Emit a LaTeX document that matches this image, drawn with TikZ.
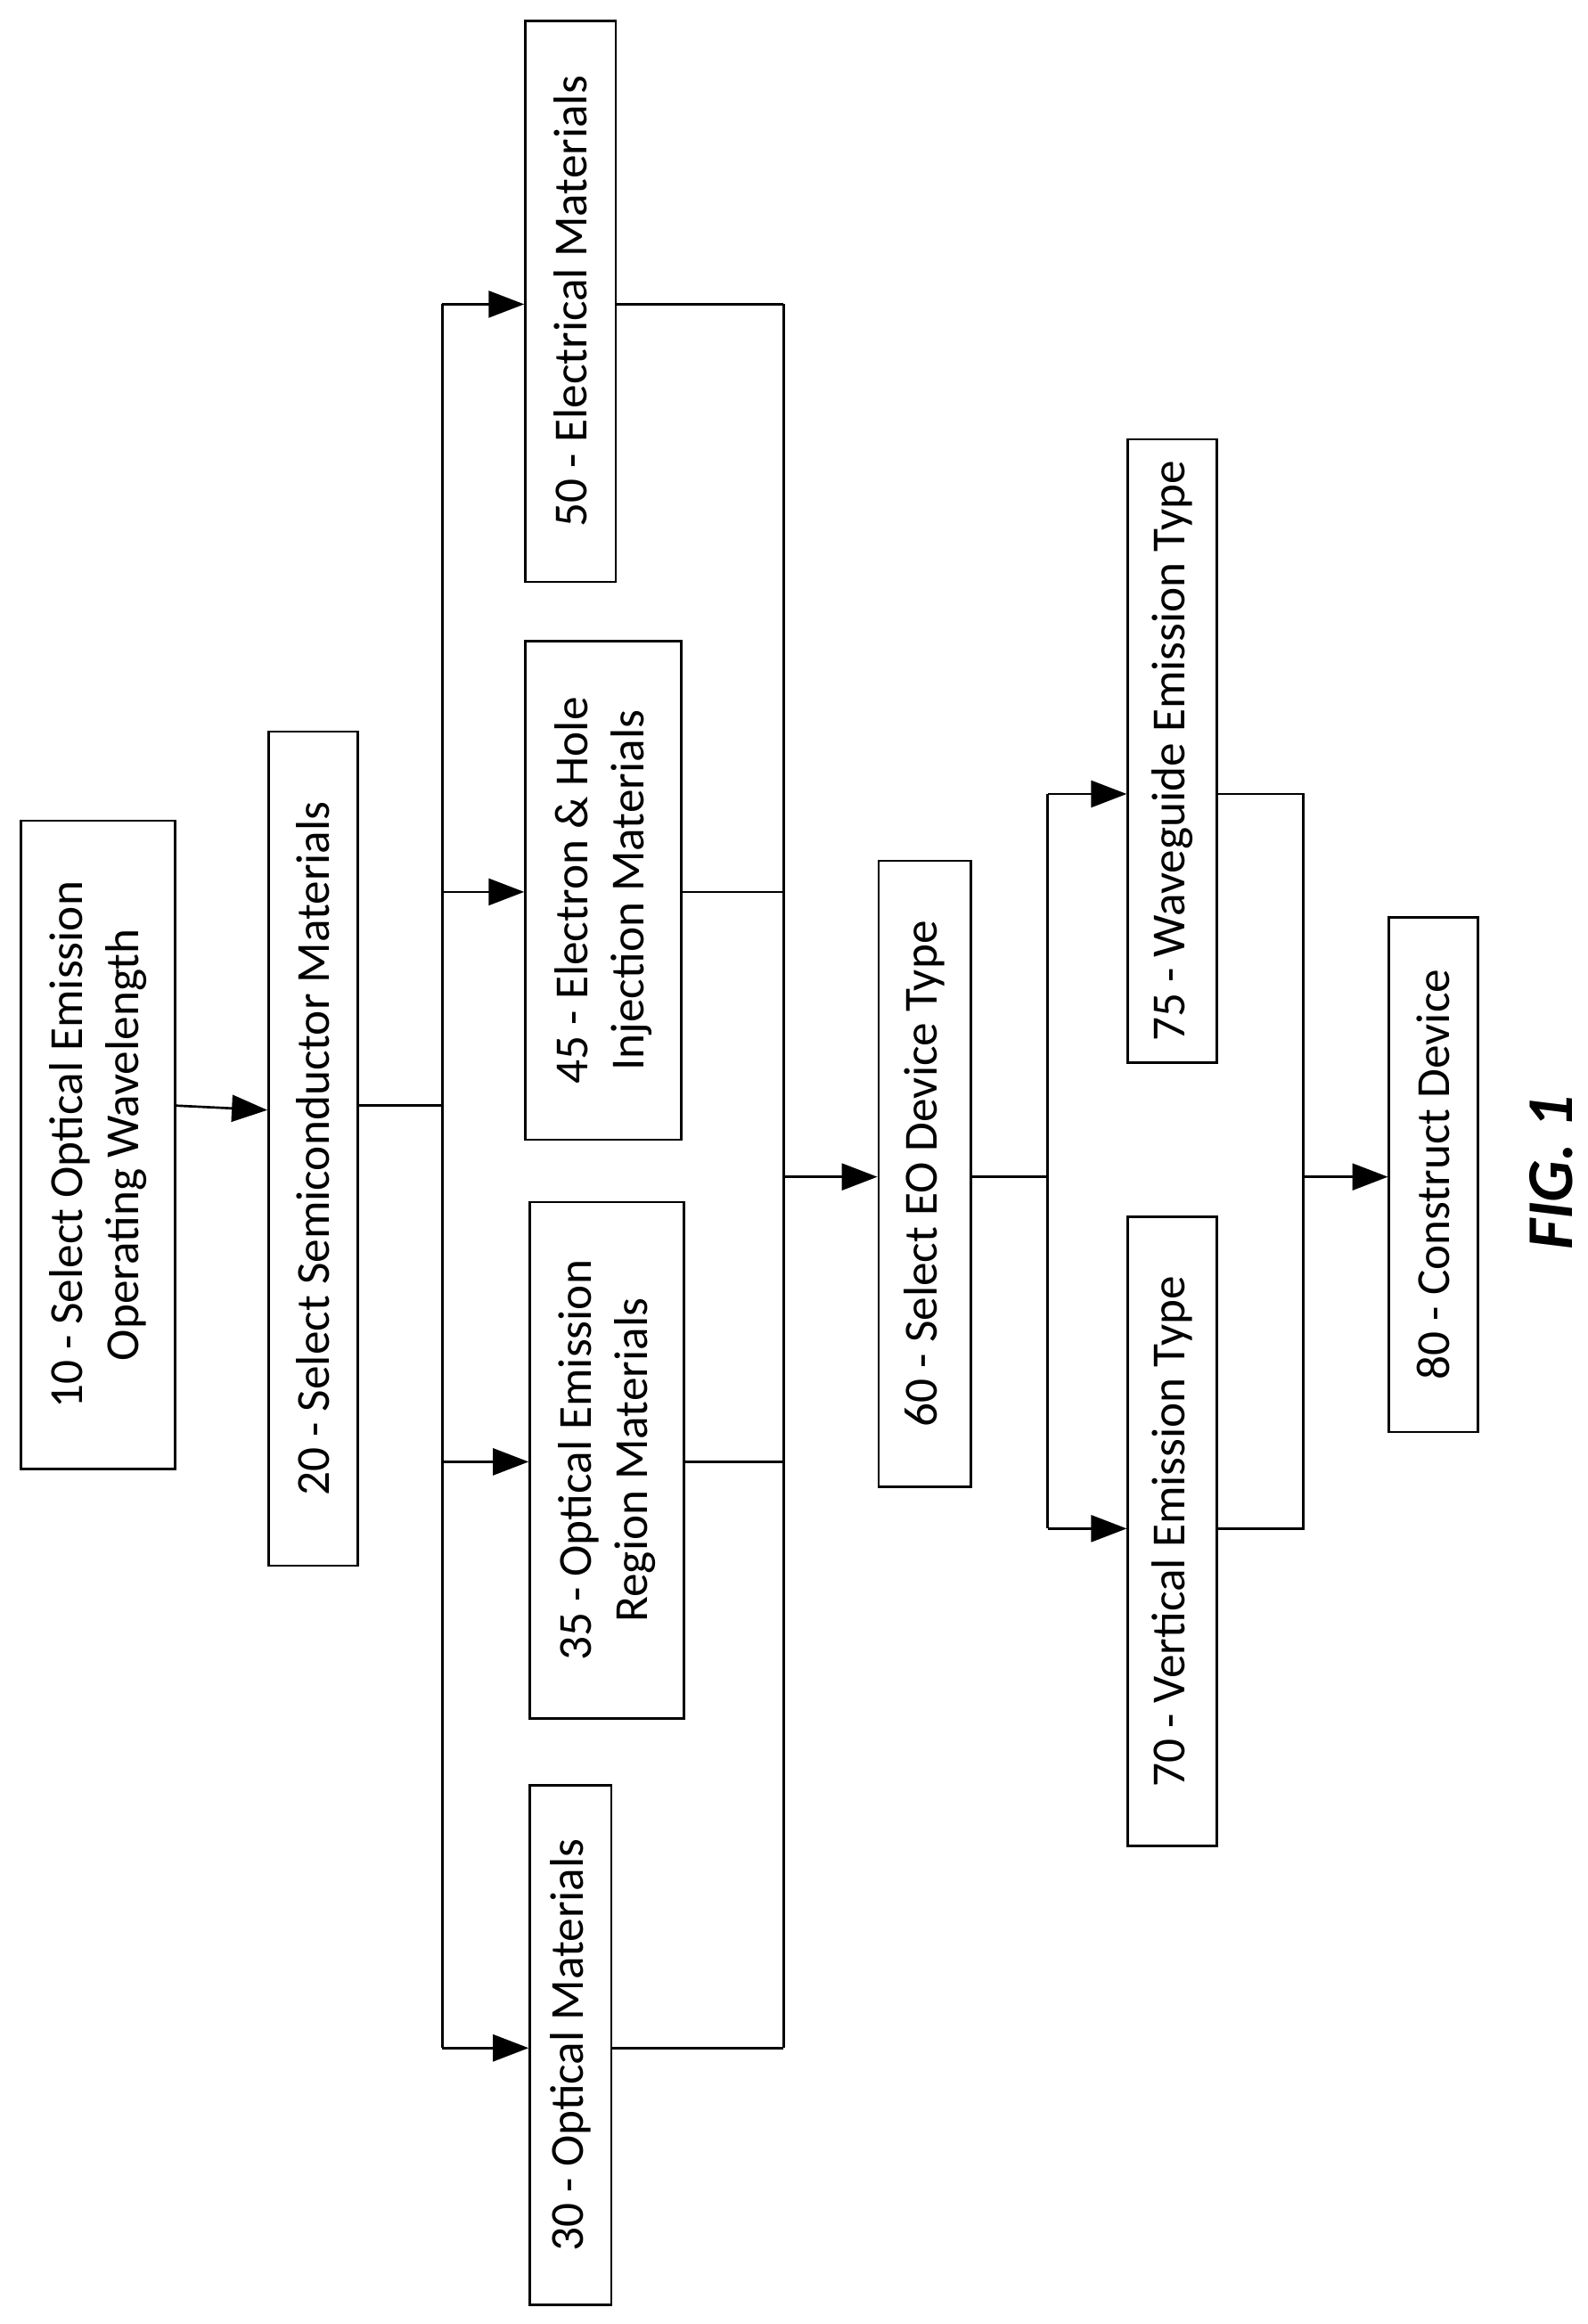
\documentclass[tikz,border=0pt]{standalone}
\usepackage{fontspec}
\setmainfont{Carlito}
\usetikzlibrary{arrows.meta}
\begin{document}
\begin{tikzpicture}[x=1pt,y=1pt,
 box/.style={draw,line width=1.6pt,rotate=90,align=center,inner sep=0pt,font=\fontsize{32}{38}\selectfont},
 ln/.style={line width=1.6pt},
 ar/.style={line width=1.6pt,-{Triangle[length=24pt,width=18pt]}}]
\useasboundingbox (0,0) rectangle (1070,-1566);
\node[box,minimum width=437,minimum height=104] (n10) at (66,-771.5) {10 - Select Optical Emission\\Operating Wavelength};
\node[box,minimum width=562,minimum height=60] (n20) at (211,-774) {20 - Select Semiconductor Materials};
\node[box,minimum width=350,minimum height=55] (n30) at (384.5,-1378) {30 - Optical Materials};
\node[box,minimum width=348,minimum height=104] (n35) at (409,-984) {35 - Optical Emission\\Region Materials};
\node[box,minimum width=336,minimum height=105] (n45) at (406.5,-600) {45 - Electron \& Hole\\Injection Materials};
\node[box,minimum width=378,minimum height=61] (n50) at (384.5,-203) {50 - Electrical Materials};
\node[box,minimum width=422,minimum height=62] (n60) at (623,-791) {60 - Select EO Device Type};
\node[box,minimum width=424,minimum height=60] (n70) at (790,-1032) {70 - Vertical Emission Type};
\node[box,minimum width=420,minimum height=60] (n75) at (790,-506) {75 - Waveguide Emission Type};
\node[box,minimum width=347,minimum height=60] (n80) at (966,-791.5) {80 - Construct Device};
\node[rotate=90,font=\fontsize{44}{52}\selectfont\bfseries\itshape] (fig) at (1045,-790) {FIG. 1};
% 10 -> 20
\draw[ar] (n10.south |- 0,-745) -- (n20.north |- 0,-748);
% split bus
\coordinate (a0) at (298,-745);
\coordinate (a50) at (298,-205);
\coordinate (a45) at (298,-601);
\coordinate (a35) at (298,-985);
\coordinate (a30) at (298,-1380);
\draw[ln] (n20.south |- a0) -- (a0);
\draw[ln] (a50) -- (a30);
\draw[ar] (a50) -- (n50.north |- a50);
\draw[ar] (a45) -- (n45.north |- a45);
\draw[ar] (a35) -- (n35.north |- a35);
\draw[ar] (a30) -- (n30.north |- a30);
% merge bus
\coordinate (b50) at (528,-205);
\coordinate (b45) at (528,-601);
\coordinate (b35) at (528,-985);
\coordinate (b30) at (528,-1380);
\coordinate (b0) at (528,-793);
\draw[ln] (n50.south |- b50) -- (b50);
\draw[ln] (n45.south |- b45) -- (b45);
\draw[ln] (n35.south |- b35) -- (b35);
\draw[ln] (n30.south |- b30) -- (b30);
\draw[ln] (b50) -- (b30);
\draw[ar] (b0) -- (n60.north |- b0);
% 60 split
\coordinate (c0) at (706,-793);
\coordinate (c75) at (706,-535);
\coordinate (c70) at (706,-1030);
\draw[ln] (n60.south |- c0) -- (c0);
\draw[ln] (c75) -- (c70);
\draw[ar] (c75) -- (n75.north |- c75);
\draw[ar] (c70) -- (n70.north |- c70);
% merge to 80
\coordinate (d75) at (878,-535);
\coordinate (d70) at (878,-1030);
\coordinate (d0) at (878,-793);
\draw[ln] (n75.south |- d75) -- (d75) -- (d70) -- (n70.south |- d70);
\draw[ar] (d0) -- (n80.north |- d0);
\end{tikzpicture}
\end{document}
